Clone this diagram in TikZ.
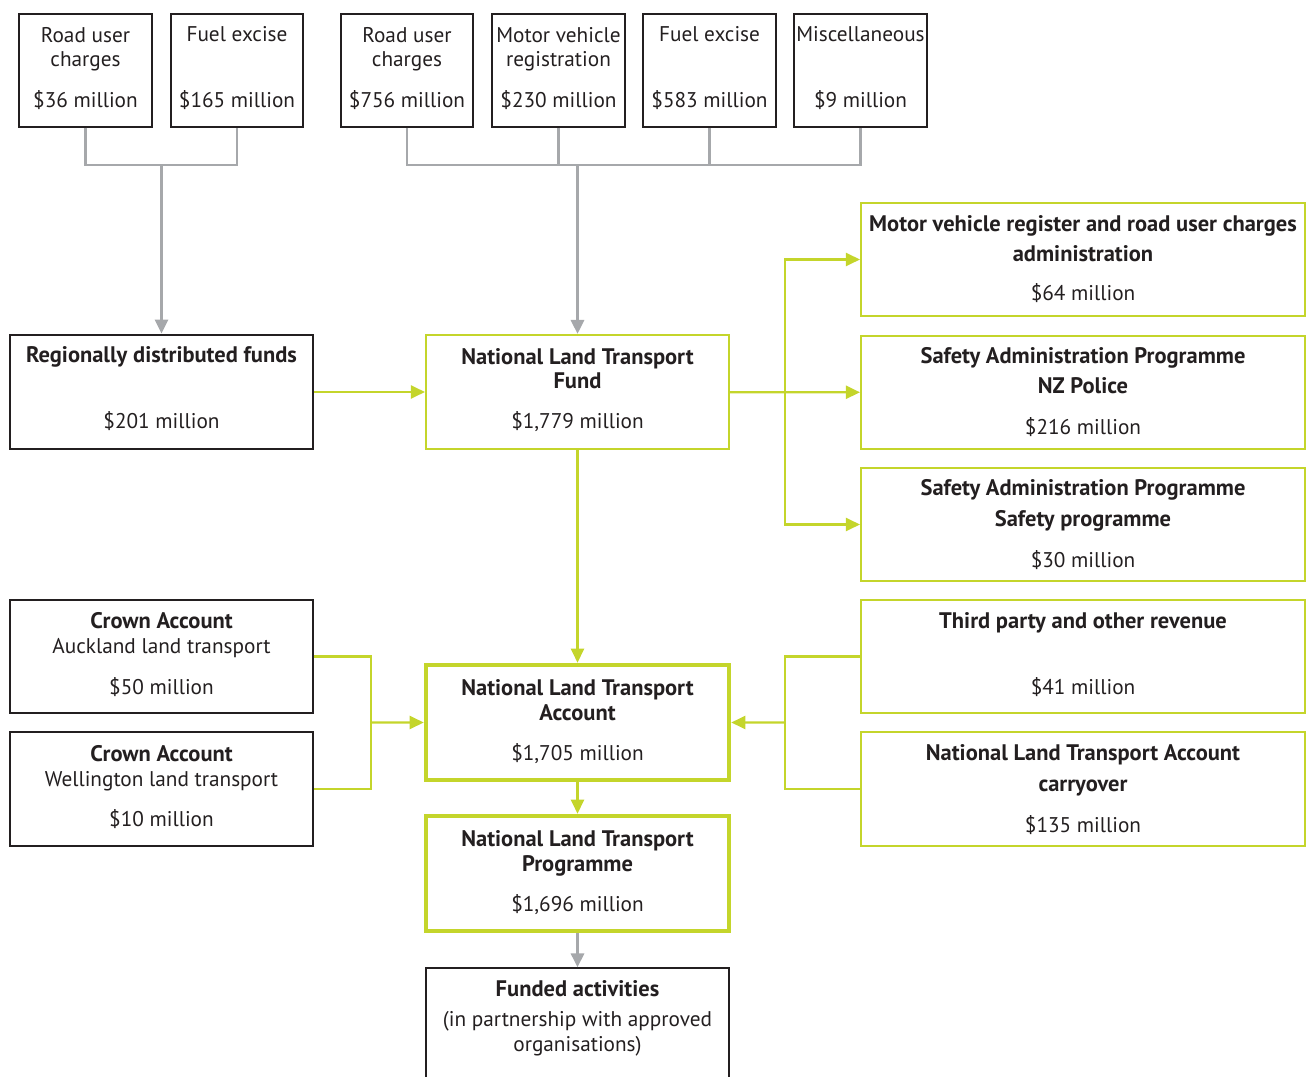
\documentclass[tikz,border=0pt]{standalone}
\usepackage{fontspec}
\setmainfont{PT Sans}
\usetikzlibrary{fit,arrows.meta}
\definecolor{lime}{HTML}{C4D52B}
\definecolor{ink}{HTML}{231F20}
\definecolor{gcol}{HTML}{A6A8AB}
\tikzstyle{src}=[draw=ink, line width=0.7pt, inner sep=0pt]
\tikzstyle{heavy}=[draw=ink, line width=1.6pt, inner sep=0pt]
\tikzstyle{fund}=[draw=lime, line width=1.2pt, inner sep=0pt]
\tikzstyle{acct}=[draw=lime, line width=2.6pt, inner sep=0pt]
\tikzstyle{txt}=[anchor=base, align=center, inner sep=0pt, text=ink, font=\fontsize{12.1}{14.2}\selectfont]
\tikzstyle{btxt}=[txt, font=\fontsize{12.8}{14.2}\selectfont\bfseries]
\tikzstyle{feed}=[line width=1.7pt, gcol]
\tikzstyle{flow}=[line width=1.3pt, lime]
\tikzstyle{tip}=[-{Triangle[length=0.28cm,width=0.26cm]}]

\begin{document}
\begin{tikzpicture}[x=0.02cm, y=-0.02cm]
	\useasboundingbox (0,0) rectangle (1311,1077);

	% Revenue sources (text nodes sit on their last baseline)
	\node[src, fit={(19,14) (152,127)}] (rA) {};
	\node[src, fit={(171,14) (303,127)}] (fA) {};
	\node[src, fit={(341,14) (473,127)}] (rB) {};
	\node[src, fit={(492,14) (625,127)}] (mB) {};
	\node[src, fit={(643,14) (776,127)}] (fB) {};
	\node[src, fit={(794,14) (927,127)}] (mi) {};
	\node[txt] (rAt) at (85.5,67) {Road user\\charges};
	\node[txt] (rAm) at (85.5,108) {\$36 million};
	\node[txt] (fAt) at (237,42) {Fuel excise};
	\node[txt] (fAm) at (237,108) {\$165 million};
	\node[txt] (rBt) at (407,67) {Road user\\charges};
	\node[txt] (rBm) at (407,108) {\$756 million};
	\node[txt] (mBt) at (558.5,67) {Motor vehicle\\registration};
	\node[txt] (mBm) at (558.5,108) {\$230 million};
	\node[txt] (fBt) at (709.5,42) {Fuel excise};
	\node[txt] (fBm) at (709.5,108) {\$583 million};
	\node[txt] (mit) at (860.5,42) {Miscellaneous};
	\node[txt] (mim) at (860.5,108) {\$9 million};

	% Funds
	\node[heavy, fit={(10,335) (313,449)}] (rg) {};
	\node[btxt] (rgt) at (161.5,363) {Regionally distributed funds};
	\node[txt] (rgm) at (161.5,429) {\$201 million};
	\node[fund, fit={(426,335) (729,449)}] (lf) {};
	\node[btxt] (lft) at (577.5,389) {National Land Transport\\Fund};
	\node[txt] (lfm) at (577.5,429) {\$1,779 million};

	% Right column
	\node[fund, fit={(861,203) (1305,316)}] (mv) {};
	\node[btxt] (mvt) at (1083,262) {Motor vehicle register and road user charges\\[3.4pt]administration};
	\node[txt] (mvm) at (1083,301) {\$64 million};
	\node[fund, fit={(861,336) (1305,449)}] (s1) {};
	\node[btxt] (s1t) at (1083,394) {Safety Administration Programme\\[3.4pt]NZ Police};
	\node[txt] (s1m) at (1083,435) {\$216 million};
	\node[fund, fit={(861,468) (1305,581)}] (s2) {};
	\node[btxt] (s2t) at (1083,526) {Safety Administration Programme\\[3.4pt]Safety programme};
	\node[txt] (s2m) at (1083,567) {\$30 million};
	\node[fund, fit={(861,600) (1305,713)}] (tp) {};
	\node[btxt] (tpt) at (1083,628) {Third party and other revenue};
	\node[txt] (tpm) at (1083,694) {\$41 million};
	\node[fund, fit={(861,732) (1305,846)}] (co) {};
	\node[btxt] (cot) at (1083,791) {National Land Transport Account\\[3.4pt]carryover};
	\node[txt] (com) at (1083,832) {\$135 million};

	% Crown accounts
	\node[heavy, fit={(10,600) (313,713)}] (ca) {};
	\node[txt] (cat) at (161.5,653) {{\fontsize{12.8}{14.2}\selectfont\bfseries Crown Account}\\Auckland land transport};
	\node[txt] (cam) at (161.5,694) {\$50 million};
	\node[heavy, fit={(10,732) (313,846)}] (cw) {};
	\node[txt] (cwt) at (161.5,786) {{\fontsize{12.8}{14.2}\selectfont\bfseries Crown Account}\\Wellington land transport};
	\node[txt] (cwm) at (161.5,826) {\$10 million};

	% Account, programme, activities
	\node[acct, fit={(426,665) (729,780)}] (la) {};
	\node[btxt] (lat) at (577.5,720) {National Land Transport\\Account};
	\node[txt] (lam) at (577.5,760) {\$1,705 million};
	\node[acct, fit={(426,816) (729,931)}] (lp) {};
	\node[btxt] (lpt) at (577.5,871) {National Land Transport\\Programme};
	\node[txt] (lpm) at (577.5,911) {\$1,696 million};
	\node[src, fit={(426,968) (729,1090)}] (fa) {};
	\node[txt] (fat) at (577.5,1051) {{\fontsize{12.8}{14.2}\selectfont\bfseries Funded activities}\\[2.8pt](in partnership with approved\\organisations)};

	\coordinate (jA) at (161.5,165);
	\coordinate (jB) at (577.5,165);
	\coordinate (jR) at (785,392.5);
	\coordinate (jL) at (371,722.5);
	\coordinate (jT) at (785,722.5);

	% Grey feeds
	\draw[feed] (rA.south) |- (jA) -| (fA.south);
	\draw[feed,tip] (jA) -- (rg.north);
	\draw[feed] (rB.south) |- (jB) -| (mi.south);
	\draw[feed] (mB.south) -- (mB.south |- jB) (fB.south) -- (fB.south |- jB);
	\draw[feed,tip] (jB) -- (lf.north);
	% Green flows
	\draw[flow,tip] (rg) -- (lf);
	\draw[flow,tip] (lf) -- (s1);
	\draw[flow,tip] (jR) |- (mv.west);
	\draw[flow,tip] (jR) |- (s2.west);
	\draw[flow,tip] (lf) -- (la);
	\draw[flow] (ca.east) -| (jL) |- (cw.east);
	\draw[flow,tip] (jL) -- (la.west);
	\draw[flow] (tp.west) -| (jT) |- (co.west);
	\draw[flow,tip] (jT) -- (la.east);
	\draw[flow,tip] (la) -- (lp);
	\draw[feed,tip] (lp) -- (fa);
\end{tikzpicture}
\end{document}
